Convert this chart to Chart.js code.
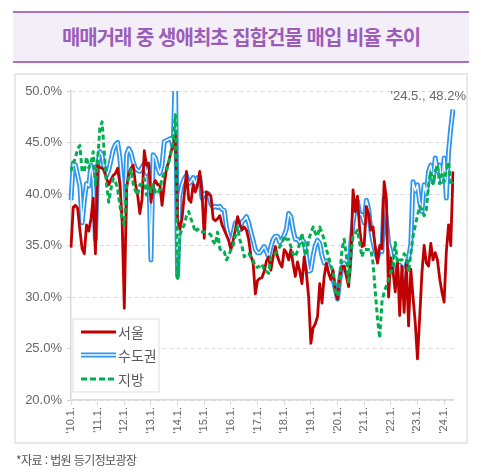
<!DOCTYPE html>
<html lang="ko">
<head>
<meta charset="utf-8">
<script src="https://cdn.jsdelivr.net/npm/chart.js@4.4.1/dist/chart.umd.min.js"></script>
<style>
  html, body { margin: 0; padding: 0; background: #fff; }
  body { width: 481px; height: 474px; position: relative; overflow: hidden; font-family: "Noto Sans CJK KR", sans-serif; }
  .title {
    position: absolute; left: 13px; top: 11px; width: 456px; height: 48px;
    background: #f4eef9; border-top: 2px solid #a86fc4; border-bottom: 2px solid #a86fc4;
    text-align: center; line-height: 48px; color: #9b5db8; font-weight: bold; font-size: 20px; letter-spacing: -1px;
  }
  .panel { position: absolute; left: 14px; top: 73px; width: 450px; height: 367px; border: 2px solid #e8e8e8; }
  .note { position: absolute; left: 16px; top: 451px; font-size: 12px; color: #555; letter-spacing: -0.6px; }
  #chart { position: absolute; left: 0; top: 0; }
</style>
</head>
<body>
<div class="title">매매거래 중 생애최초 집합건물 매입 비율 추이</div>
<div class="panel"></div>
<canvas id="chart" width="481" height="474"></canvas>
<div class="note">*자료 : 법원 등기정보광장</div>
<script>
// 월별 라벨: '10.1. ~ '24.5.
const startYear = 2010
const monthCount = 173
const months = []
for (let i = 0; i < monthCount; i++) {
  const y = startYear + Math.floor(i / 12)
  months.push(`'${String(y).slice(2)}.${(i % 12) + 1}.`)
}

const seriesNames = ['서울', '수도권', '지방']
const yTicks = [20, 25, 30, 35, 40, 45, 50]

// 서울
const seoul = [
  34.8, 38.7, 38.9, 38.6, 36.5, 34.7, 34.2, 37.0, 36.4, 37.6, 39.6, 34.2,
  42.8, 42.6, 42.5, 42.3, 41.5, 40.9, 41.4, 41.8, 42.0, 42.5, 41.0, 37.5,
  28.9, 40.5, 42.0, 42.5, 42.8, 41.0, 39.9, 38.1, 39.5, 44.2, 42.8, 43.0,
  39.2, 40.8, 41.3, 40.9, 40.9, 38.9, 40.9, 42.5, 43.1, 44.1, 44.7, 46.0,
  37.5, 36.6, 37.6, 39.9, 42.2, 39.5, 39.2, 40.9, 40.2, 40.9, 42.2, 40.0,
  35.7, 40.2, 40.0, 39.8, 37.6, 37.4, 37.6, 37.9, 37.0, 36.5, 36.0, 35.5,
  34.6, 35.5, 36.5, 37.8, 37.1, 36.5, 36.8, 36.5, 35.6, 34.0, 33.3, 30.3,
  31.6, 31.8, 31.9, 32.5, 33.5, 33.9, 32.6, 33.9, 34.9, 33.9, 33.3, 32.9,
  34.6, 34.3, 33.6, 34.6, 33.2, 32.0, 33.4, 32.5, 31.3, 33.9, 32.3, 30.0,
  25.5, 27.0, 27.4, 28.1, 31.3, 29.4, 32.0, 33.3, 32.3, 31.7, 32.6, 30.6,
  29.8, 32.0, 32.9, 33.0, 32.0, 31.0, 33.9, 40.4, 38.3, 39.8, 36.5, 34.9,
  35.0, 38.8, 38.1, 36.5, 36.8, 34.8, 33.3, 35.0, 34.7, 41.2, 39.6, 30.0,
  33.8, 32.5, 30.5, 33.5, 28.2, 33.0, 28.5, 33.3, 27.2, 32.7, 30.0, 27.5,
  24.0, 28.0, 32.3, 35.0, 33.3, 33.0, 35.2, 33.6, 34.3, 33.6, 31.8, 30.5,
  29.5, 34.4, 37.0, 35.0, 42.2
]

// 수도권
const capital = [
  39.4, 43.0, 42.8, 41.8, 40.8, 37.2, 39.4, 41.0, 40.8, 42.8, 41.5, 35.6,
  42.8, 44.1, 43.8, 42.5, 41.8, 42.3, 43.3, 44.3, 44.8, 45.0, 43.5, 41.0,
  35.8, 43.8, 44.4, 44.0, 43.1, 42.5, 42.3, 42.2, 42.6, 43.0, 42.0, 42.6,
  33.6, 43.8, 43.5, 42.6, 42.0, 42.8, 45.1, 45.2, 45.3, 45.4, 44.5, 52.0,
  32.0, 39.9, 40.9, 41.5, 41.8, 41.0, 41.2, 41.6, 41.0, 41.6, 41.6, 39.6,
  40.0, 40.1, 40.0, 39.0, 38.7, 38.8, 38.7, 38.8, 38.5, 38.4, 36.8, 35.9,
  35.2, 36.2, 37.2, 37.0, 36.5, 37.3, 37.5, 37.8, 37.2, 36.3, 35.5, 34.6,
  34.3, 34.3, 34.6, 34.9, 34.4, 33.9, 34.9, 35.6, 35.9, 35.9, 35.3, 35.6,
  36.0, 36.6, 38.1, 37.8, 36.5, 35.6, 35.6, 35.3, 35.6, 35.3, 34.0, 32.5,
  32.6, 34.0, 35.0, 35.5, 35.2, 34.0, 33.3, 33.5, 33.0, 32.3, 31.7, 30.8,
  29.8, 31.7, 32.9, 33.3, 33.0, 32.0, 35.2, 37.2, 38.8, 39.3, 38.0, 38.0,
  37.2, 39.4, 38.5, 36.5, 35.3, 34.4, 33.8, 34.6, 34.4, 39.6, 37.5, 35.2,
  34.4, 33.1, 33.8, 32.4, 33.1, 30.5, 32.4, 33.1, 33.8, 35.1, 41.2, 40.3,
  40.9, 39.2, 38.3, 40.9, 40.0, 42.2, 42.8, 41.2, 43.5, 42.2, 42.8, 41.2,
  43.5, 39.6, 44.1, 46.4, 48.2
]

// 지방
const regions = [
  42.2, 43.0, 43.5, 44.4, 44.7, 42.2, 42.2, 43.6, 42.5, 43.0, 44.1, 40.9,
  43.3, 46.4, 47.0, 44.0, 40.9, 39.2, 40.5, 41.5, 41.2, 40.5, 38.9, 37.5,
  37.0, 40.9, 41.5, 42.4, 41.0, 40.3, 39.9, 40.9, 41.0, 41.5, 39.9, 40.9,
  40.2, 40.9, 40.2, 40.0, 40.5, 41.5, 42.0, 42.2, 43.1, 44.0, 45.1, 47.7,
  31.8, 36.0, 36.6, 37.0, 37.9, 38.3, 37.6, 37.0, 36.3, 36.6, 36.3, 36.3,
  36.3, 36.3, 36.2, 36.0, 35.4, 35.1, 36.3, 34.7, 34.4, 34.4, 33.6, 34.0,
  34.6, 35.0, 35.9, 36.8, 35.6, 34.9, 33.9, 34.2, 34.2, 33.9, 33.6, 32.9,
  32.9, 33.0, 33.2, 32.6, 32.5, 32.3, 33.9, 34.0, 34.2, 34.5, 34.9, 35.2,
  35.9, 35.6, 35.6, 34.9, 34.2, 33.9, 34.5, 35.2, 36.2, 34.6, 34.0, 35.6,
  36.2, 36.8, 36.2, 35.9, 36.8, 36.2, 35.6, 34.6, 33.9, 33.0, 32.6, 30.6,
  30.1, 32.0, 34.6, 35.6, 34.0, 31.3, 34.2, 35.9, 36.2, 36.5, 35.2, 33.9,
  34.6, 34.6, 34.6, 34.6, 33.3, 30.5, 27.9, 26.0, 29.5, 30.5, 31.1, 31.7,
  32.4, 33.1, 35.3, 33.3, 33.6, 33.6, 34.2, 33.9, 32.4, 34.2, 35.9, 36.9,
  37.9, 38.8, 38.5, 37.9, 38.5, 40.9, 42.2, 41.0, 42.2, 42.8, 41.0, 41.9,
  41.2, 42.4, 43.1, 40.9, 41.2
]

const RED = '#c00000'
const BLUE = '#2f96ef'
const GREEN = '#00b050'
const GRAY_TEXT = '#666666'

// 범례 (왼쪽 아래 박스)
const boxLegend = {
  id: 'boxLegend',
  afterDatasetsDraw(chart) {
    const ctx = chart.ctx
    const { left, bottom } = chart.chartArea
    const bx = left + 2, by = bottom - 81, bw = 86, bh = 73
    ctx.save()
    ctx.fillStyle = '#fff'
    ctx.fillRect(bx, by, bw, bh)
    ctx.strokeStyle = '#e3e3e3'
    ctx.lineWidth = 1.2
    ctx.strokeRect(bx, by, bw, bh)

    const x1 = bx + 8, x2 = bx + 43
    const rows = [by + 13, by + 36, by + 60]
    const line = (y, color, width, dash) => {
      ctx.beginPath()
      ctx.setLineDash(dash || [])
      ctx.strokeStyle = color
      ctx.lineWidth = width
      ctx.moveTo(x1, y)
      ctx.lineTo(x2, y)
      ctx.stroke()
    }
    line(rows[0], RED, 3)
    line(rows[1], BLUE, 5)
    line(rows[1], '#fff', 1.6)
    line(rows[2], GREEN, 3, [6, 3])
    ctx.setLineDash([])

    ctx.fillStyle = '#595959'
    ctx.font = '14px "Noto Sans CJK KR", sans-serif'
    ctx.textBaseline = 'middle'
    ctx.textAlign = 'left'
    rows.forEach((y, k) => ctx.fillText(seriesNames[k], x2 + 2, y + 1))
    ctx.restore()
  },
}

// 마지막 수도권 값 표시
const lastLabel = {
  id: 'lastLabel',
  afterDatasetsDraw(chart) {
    const meta = chart.getDatasetMeta(0)
    const n = capital.length - 1
    const pt = meta.data[n]
    const ctx = chart.ctx
    ctx.save()
    ctx.fillStyle = GRAY_TEXT
    ctx.font = '13px "Liberation Sans", sans-serif'
    ctx.textAlign = 'right'
    ctx.textBaseline = 'middle'
    ctx.fillText(`${months[n]}, ${capital[n].toFixed(1)}%`, pt.x + 13, pt.y - 13)
    ctx.restore()
  },
}

new Chart(document.getElementById('chart'), {
  type: 'line',
  data: {
    labels: months,
    datasets: [
      { label: seriesNames[1], data: capital, borderColor: BLUE, borderWidth: 5, order: 3 },
      { label: seriesNames[1], data: capital, borderColor: '#ffffff', borderWidth: 1.4, order: 2 },
      { label: seriesNames[0], data: seoul, borderColor: RED, borderWidth: 2.8, order: 1 },
      { label: seriesNames[2], data: regions, borderColor: GREEN, borderWidth: 3, borderDash: [5, 3], order: 0 },
    ],
  },
  options: {
    responsive: false,
    animation: false,
    layout: { padding: { left: 0, right: 28, top: 91, bottom: 30 } },
    elements: {
      point: { radius: 0 },
      line: { tension: 0, borderCapStyle: 'butt', borderJoinStyle: 'round' },
    },
    plugins: {
      legend: { display: false },
      tooltip: { enabled: false },
    },
    scales: {
      x: {
        ticks: {
          autoSkip: false,
          minRotation: 90,
          maxRotation: 90,
          padding: 2,
          color: GRAY_TEXT,
          font: { family: 'Liberation Sans', size: 11 },
          callback(v) {
            return this.getLabelForValue(v)
          },
        },
        afterBuildTicks(axis) {
          axis.ticks = axis.ticks.filter((t) => t.value % 12 === 0)
        },
        afterFit(axis) {
          axis.height = 44
        },
        grid: { drawOnChartArea: false, drawTicks: true, tickLength: 5, color: '#d9d9d9' },
        border: { color: '#d9d9d9', width: 1.5 },
      },
      y: {
        min: yTicks[0],
        max: yTicks[yTicks.length - 1],
        ticks: {
          stepSize: yTicks[1] - yTicks[0],
          padding: 5,
          color: GRAY_TEXT,
          font: { family: 'Liberation Sans', size: 13 },
          callback: (v) => v.toFixed(1) + '%',
        },
        afterFit(axis) {
          axis.width = 71
        },
        grid: { color: '#dadada', tickLength: 4, tickColor: '#d0d0d0' },
        border: { color: '#d9d9d9', width: 1.5, dash: [4, 3] },
      },
    },
  },
  plugins: [boxLegend, lastLabel],
})
</script>
</body>
</html>
